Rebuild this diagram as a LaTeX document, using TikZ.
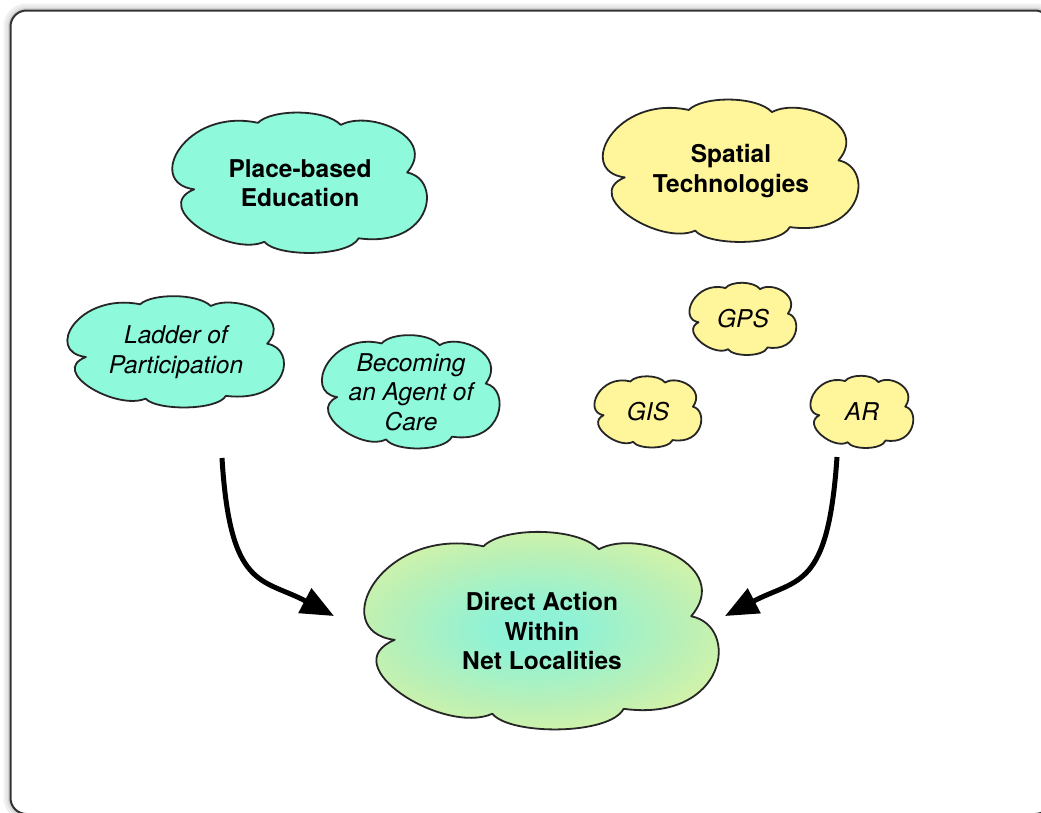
\documentclass[tikz,border=0pt]{standalone}
\usepackage{fontspec}
\setmainfont{TeX Gyre Heros}
\usetikzlibrary{arrows.meta}
\definecolor{teal1}{HTML}{8EF9DB}
\definecolor{yel1}{HTML}{FFF59A}
\definecolor{dirin}{HTML}{8FF2D6}
\definecolor{dirmid}{HTML}{BAF0B6}
\definecolor{dirout}{HTML}{EAF59C}
\pgfdeclareradialshading{dirshade}{\pgfpoint{0bp}{0bp}}{%
  color(0bp)=(dirin); color(5bp)=(dirin); color(18bp)=(dirmid);
  color(32bp)=(dirout); color(50bp)=(dirout)}
\newcommand\mycloud[5]{%
  \begin{scope}[shift={(#1,#2)},xscale=#3,yscale=-#4]
    \path[#5] (-0.83,-0.09)
      .. controls (-1.22,0.0) and (-0.9,1.08) .. (-0.33,0.86)
      .. controls (-0.22,1.06) and (0.2,1.06) .. (0.32,0.83)
      .. controls (0.55,1.05) and (1.08,0.65) .. (0.84,0.15)
      .. controls (1.12,0.05) and (1.04,-0.93) .. (0.46,-0.79)
      .. controls (0.38,-1.06) and (-0.18,-1.06) .. (-0.28,-0.84)
      .. controls (-0.55,-1.06) and (-1.18,-0.35) .. (-0.83,-0.09)
      -- cycle;
  \end{scope}}
\tikzset{
  cloudline/.style={draw=black!85,line width=1.8pt,line join=round},
  bigtxt/.style={align=center,inner sep=0pt,font=\bfseries\fontsize{24.5}{29.5}\selectfont},
  smalltxt/.style={align=center,inner sep=0pt,font=\itshape\fontsize{24.5}{29.5}\selectfont},
  flow/.style={line width=5pt,-{Triangle[length=33pt,width=27pt]}}
}
\begin{document}
\begin{tikzpicture}[x=1pt,y=-1pt]
\useasboundingbox (0,0) rectangle (1041,812);
% frame with soft shadow
\draw[black!6,line width=14pt,rounded corners=16pt] (10.5,10.5) rectangle (1051,814);
\draw[black!10,line width=9pt,rounded corners=16pt] (10.5,10.5) rectangle (1051,814);
\draw[black!18,line width=5pt,rounded corners=16pt] (10.5,10.5) rectangle (1051,814);
\fill[white,rounded corners=16pt] (10.5,10.5) rectangle (1051,814);
\draw[black!80,line width=2pt,rounded corners=16pt] (10.5,10.5) rectangle (1051,814);
% clouds
\mycloud{300}{183}{127.5}{70}{cloudline,fill=teal1}
\mycloud{731}{171}{128}{71}{cloudline,fill=yel1}
\mycloud{176}{352}{108.5}{55.5}{cloudline,fill=teal1}
\mycloud{411}{392}{89}{56.5}{cloudline,fill=teal1}
\mycloud{743}{319}{53.5}{36}{cloudline,fill=yel1}
\mycloud{648}{412}{53.5}{35.5}{cloudline,fill=yel1}
\mycloud{862}{412}{51.5}{36}{cloudline,fill=yel1}
\mycloud{542}{631}{177.5}{98.5}{shading=dirshade}
\mycloud{542}{631}{177.5}{98.5}{cloudline}
% texts
\node[bigtxt] (pbe) at (300,183) {Place-based\\Education};
\node[bigtxt] (spt) at (731,171) {Spatial\\Technologies};
\node[smalltxt] (lad) at (176,352) {Ladder of\\Participation};
\node[smalltxt] (bec) at (411,392) {Becoming\\an Agent of\\Care};
\node[smalltxt] (gps) at (743,319) {GPS};
\node[smalltxt] (gis) at (648,412) {GIS};
\node[smalltxt] (ar) at (862,412) {AR};
\node[bigtxt] (dir) at (542,631) {Direct Action\\Within\\Net Localities};
% arrows
\coordinate (l0) at (222,458);
\coordinate (l1) at (334,616);
\coordinate (r0) at (837,457);
\coordinate (r1) at (725,616);
\draw[flow] (l0) .. controls (230,590) and (262,578) .. (l1);
\draw[flow] (r0) .. controls (828,590) and (798,578) .. (r1);
\end{tikzpicture}
\end{document}
